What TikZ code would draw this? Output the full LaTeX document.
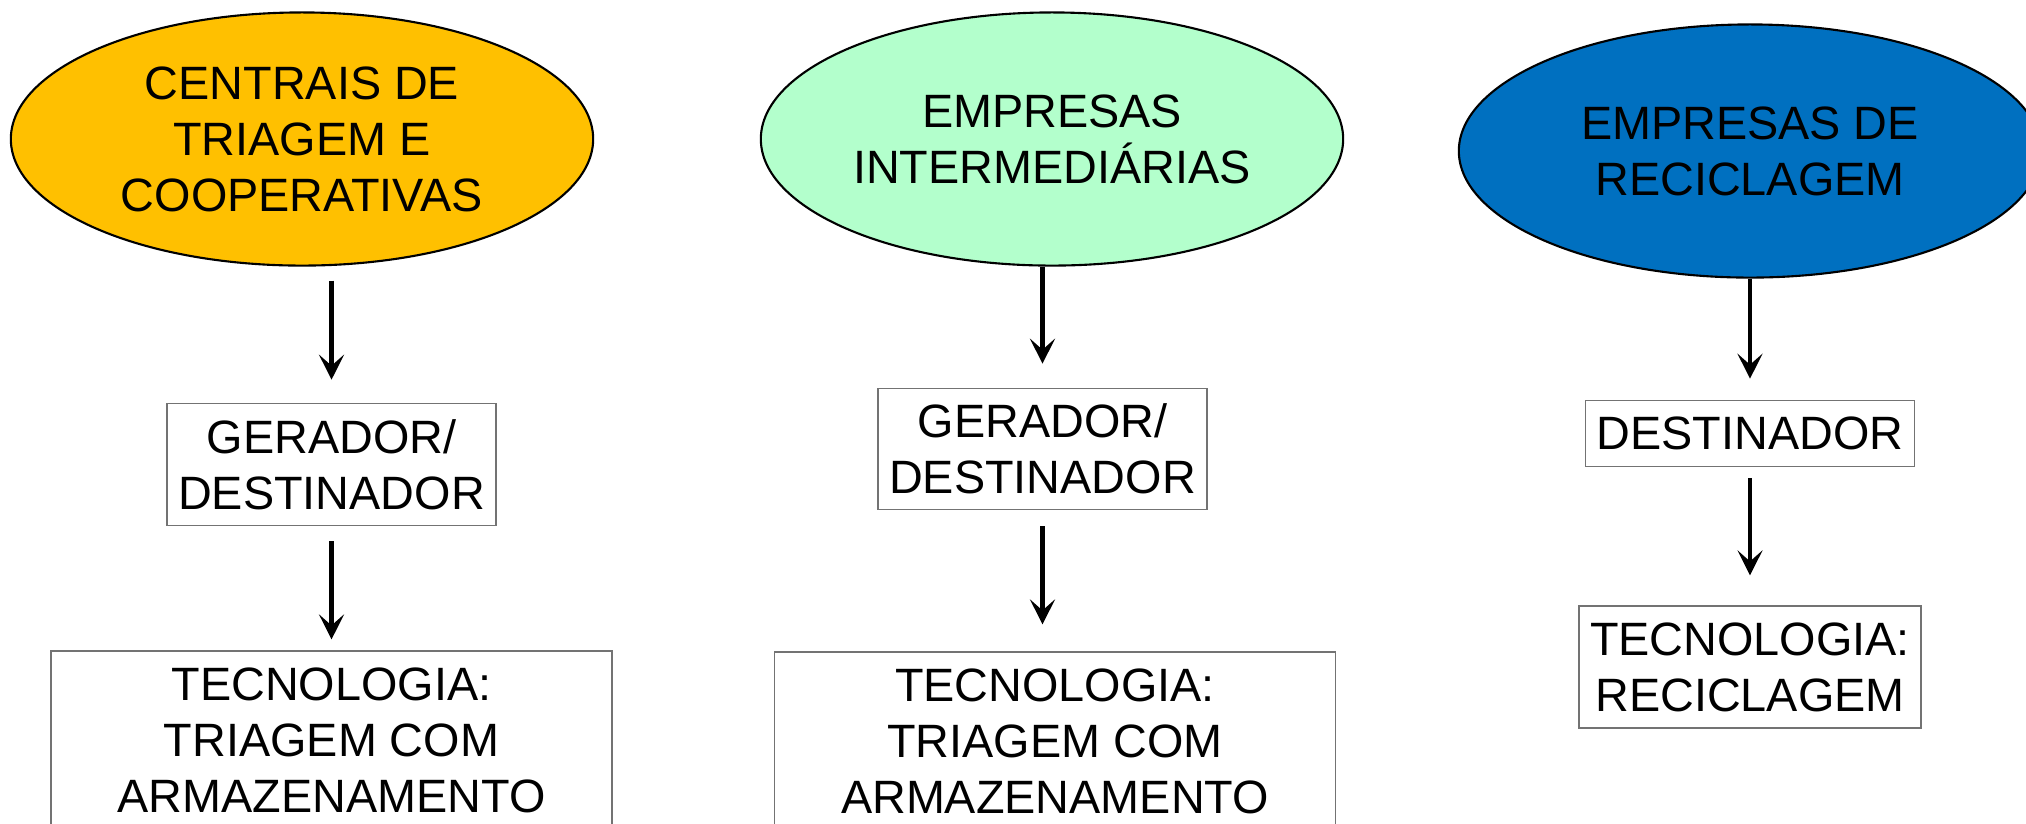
\documentclass[tikz,border=0pt]{standalone}
\usepackage{fontspec}
\setmainfont{Liberation Sans}
\usepackage{tikz}
\usetikzlibrary{arrows.meta, positioning, shapes.geometric}

\definecolor{amarelo}{HTML}{FFC000}
\definecolor{verde}{HTML}{B3FFCC}
\definecolor{azul}{HTML}{0070C0}

\begin{document}
\begin{tikzpicture}[
            x = 0.01cm, y = -0.01cm, % one unit per pixel, y pointing down
            > = {Stealth[length=2.5mm, width=2.5mm, inset=1.1mm]}, % arrow head style
            line width = 1.15pt, % arrow line style
            font = \fontsize{13.3pt}{15.9pt}\selectfont
        ]

        \tikzstyle{agente}=[
            ellipse,
            draw = black,
            line width = 0.6pt,
            inner sep = 0pt,
            minimum width = 5.82cm,
            minimum height = 2.53cm,
            align = center
        ]

        \tikzstyle{caixa}=[
            rectangle,
            draw = black!55,
            line width = 0.45pt,
            fill = white,
            inner sep = 0pt,
            align = center
        ]

        \useasboundingbox (0,0) rectangle (2026,823);

        % ellipses on top
        \node[agente, fill = amarelo] (E1) at (302,139) {CENTRAIS DE\\TRIAGEM E\\COOPERATIVAS};
        \node[agente, fill = verde] (E2) at (1052,139) {EMPRESAS\\INTERMEDIÁRIAS};
        \node[agente, fill = azul] (E3) at (1750,151) {EMPRESAS DE\\RECICLAGEM};

        % boxes below
        \node[caixa, minimum width = 3.29cm, minimum height = 1.22cm] (G1) [below = 1.36cm of E1, xshift = 2.95mm] {GERADOR/\\DESTINADOR};
        \node[caixa, minimum width = 5.61cm, minimum height = 1.78cm] (T1) [below = 1.24cm of G1] {TECNOLOGIA:\\TRIAGEM COM\\ARMAZENAMENTO};

        \node[caixa, minimum width = 3.29cm, minimum height = 1.21cm] (G2) [below = 1.21cm of E2, xshift = -0.95mm] {GERADOR/\\DESTINADOR};
        \node[caixa, minimum width = 5.61cm, minimum height = 1.78cm] (T2) [below = 1.41cm of G2, xshift = 1.25mm] {TECNOLOGIA:\\TRIAGEM COM\\ARMAZENAMENTO};

        \node[caixa, minimum width = 3.29cm, minimum height = 0.66cm] (D3) [below = 1.21cm of E3] {DESTINADOR};
        \node[caixa, minimum width = 3.42cm, minimum height = 1.22cm] (T3) [below = 1.38cm of D3] {TECNOLOGIA:\\RECICLAGEM};

        \path[->] (E1.south -| G1) edge [shorten <= 1.4mm, shorten >= 2.3mm] (G1.north);
        \path[->] (G1.south) edge [shorten <= 1.5mm, shorten >= 1.1mm] (T1.north -| G1);

        \path[->] (E2.south -| G2) edge [shorten >= 2.4mm] (G2.north);
        \path[->] (G2.south) edge [shorten <= 1.6mm, shorten >= 2.7mm] (T2.north -| G2);

        \path[->] (E3.south -| D3) edge [shorten >= 2.1mm] (D3.north);
        \path[->] (D3.south) edge [shorten <= 1.1mm, shorten >= 3mm] (T3.north -| D3);

    \end{tikzpicture}
\end{document}
